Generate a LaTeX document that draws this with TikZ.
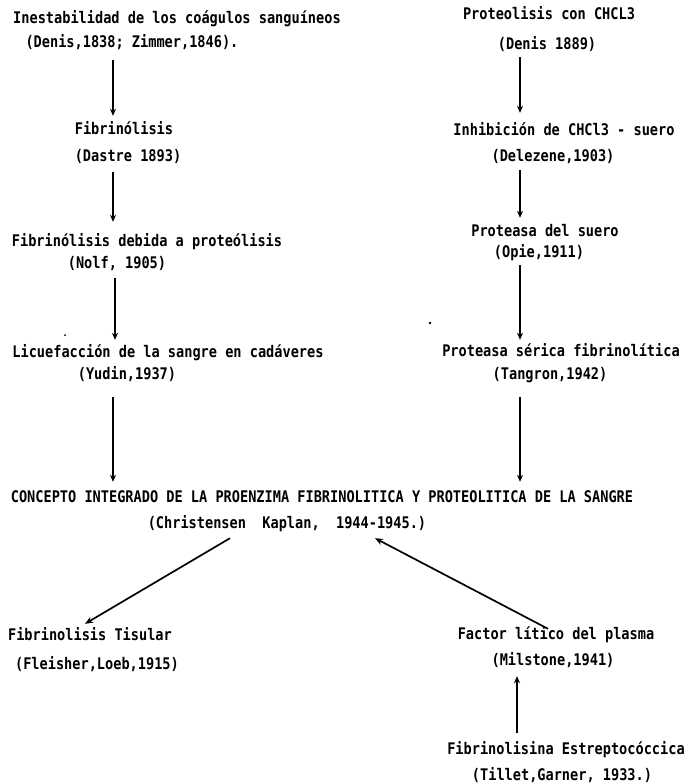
\documentclass[tikz,border=0pt]{standalone}
\usepackage{fontspec}
\setmainfont{DejaVu Sans Mono}[FakeStretch=0.85]
\usetikzlibrary{arrows.meta}
\begin{document}
\begin{tikzpicture}[x=1pt,y=-1pt,
  lbl/.style={inner sep=0pt,text height=11pt,text depth=3pt,anchor=center,
    font=\fontsize{16}{16}\selectfont\bfseries},
  arr/.style={line width=1.8pt,-{Stealth[length=7pt,width=6pt]}},
  darr/.style={line width=1.7pt,-{Stealth[length=8pt,width=6.5pt]}}]
\fill[white] (0,0) rectangle (691,784);
\useasboundingbox (0,0) rectangle (691,784);
% left column
\node[lbl] (L1a) at (177,20) {Inestabilidad de los coágulos sanguíneos};
\node[lbl] (L1b) at (132,44) {(Denis,1838; Zimmer,1846).};
\node[lbl] (L2a) at (124,130) {Fibrinólisis};
\node[lbl] (L2b) at (128,157) {(Dastre 1893)};
\node[lbl] (L3a) at (147,242) {Fibrinólisis debida a proteólisis};
\node[lbl] (L3b) at (117,264) {(Nolf, 1905)};
\node[lbl] (L4a) at (168,353) {Licuefacción de la sangre en cadáveres};
\node[lbl] (L4b) at (127,375) {(Yudin,1937)};
% right column
\node[lbl] (R1a) at (549,16) {Proteolisis con CHCL3};
\node[lbl] (R1b) at (547,45) {(Denis 1889)};
\node[lbl] (R2a) at (564,131) {Inhibición de CHCl3 - suero};
\node[lbl] (R2b) at (553,157) {(Delezene,1903)};
\node[lbl] (R3a) at (545,232) {Proteasa del suero};
\node[lbl] (R3b) at (539,253) {(Opie,1911)};
\node[lbl] (R4a) at (561,352) {Proteasa sérica fibrinolítica};
\node[lbl] (R4b) at (550,375) {(Tangron,1942)};
% centre
\node[lbl] (C1) at (322,498) {CONCEPTO INTEGRADO DE LA PROENZIMA FIBRINOLITICA Y PROTEOLITICA DE LA SANGRE};
\node[lbl] (C2) at (287,524) {(Christensen~~Kaplan,~~1944-1945.)};
% bottom
\node[lbl] (B1a) at (90,636) {Fibrinolisis Tisular};
\node[lbl] (B1b) at (97,665) {(Fleisher,Loeb,1915)};
\node[lbl] (B2a) at (556,635) {Factor lítico del plasma};
\node[lbl] (B2b) at (553,661) {(Milstone,1941)};
\node[lbl] (B3a) at (566,750) {Fibrinolisina Estreptocóccica};
\node[lbl] (B3b) at (562,776) {(Tillet,Garner, 1933.)};
% left arrows
\draw[arr,shorten <=9pt,shorten >=7pt] (113,0 |- L1b.south) -- (113,0 |- L2a.north);
\draw[arr,shorten <=8pt,shorten >=13pt] (113,0 |- L2b.south) -- (113,0 |- L3a.north);
\draw[arr,shorten <=7pt,shorten >=6pt] (115,0 |- L3b.south) -- (115,0 |- L4a.north);
\draw[arr,shorten <=15pt,shorten >=9pt] (113,0 |- L4b.south) -- (113,0 |- C1.north);
% right arrows
\draw[arr,shorten <=5pt,shorten >=11pt] (520,0 |- R1b.south) -- (520,0 |- R2a.north);
\draw[arr,shorten <=6pt,shorten >=7pt] (520,0 |- R2b.south) -- (520,0 |- R3a.north);
\draw[arr,shorten <=5pt,shorten >=5pt] (520,0 |- R3b.south) -- (520,0 |- R4a.north);
\draw[arr,shorten <=15pt,shorten >=9pt] (520,0 |- R4b.south) -- (520,0 |- C1.north);
% diagonals
\draw[darr] ([xshift=-57pt,yshift=-7pt]C2.south) -- ([xshift=-5pt,yshift=5pt]B1a.north);
\draw[darr] ([xshift=-8pt,yshift=-1pt]B2a.north) -- ([xshift=88pt,yshift=-7pt]C2.south);
% upward arrow
\draw[arr,shorten <=10pt,shorten >=8pt] (517,0 |- B3a.north) -- (517,0 |- B2b.south);
% scan specks
\fill (430,323) circle (1.3);
\fill (65,335) circle (1.0);
\end{tikzpicture}
\end{document}
